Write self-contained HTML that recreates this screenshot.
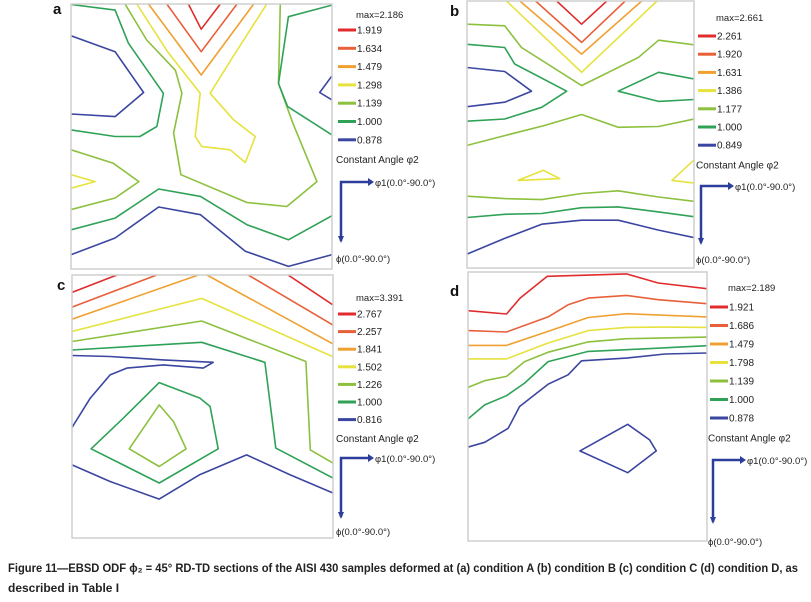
<!DOCTYPE html>
<html><head><meta charset="utf-8"><style>
body{margin:0;background:#fff;}
svg{display:block;font-family:"Liberation Sans",Arial,sans-serif;}
</style></head><body>
<svg id="fig" width="811" height="602" viewBox="0 0 811 602" xmlns="http://www.w3.org/2000/svg">
<text x="8" y="572" font-size="12" font-weight="bold" fill="#222" textLength="790" lengthAdjust="spacingAndGlyphs">Figure 11—EBSD ODF ϕ₂ = 45° RD-TD sections of the AISI 430 samples deformed at (a) condition A (b) condition B (c) condition C (d) condition D, as</text>
<text x="8" y="592" font-size="12" font-weight="bold" fill="#222">described in Table I</text>
</svg>
<script>
const colors = ['#e02c2c','#e8603a','#f0a032','#e6e23e','#8cc03e','#2fa257','#3a46a0'];
// Panel metadata
const panelLabels = ['a','b','c','d'];
const maxLabels = ['max=2.186','max=2.661','max=3.391','max=2.189'];
const levelsA = ['1.919','1.634','1.479','1.298','1.139','1.000','0.878'];
const levelsB = ['2.261','1.920','1.631','1.386','1.177','1.000','0.849'];
const levelsC = ['2.767','2.257','1.841','1.502','1.226','1.000','0.816'];
const levelsD = ['1.921','1.686','1.479','1.798','1.139','1.000','0.878'];
// Contours: [levelIndex, closed, points in % of phi1 / Phi range]
const contoursA = [
 [0,0,[[45,0],[49.9,9.5],[57.2,0]]],
 [1,0,[[36.7,0],[49.9,18],[63.6,0]]],
 [2,0,[[29.7,0],[49.9,26.8],[70,0]]],
 [3,0,[[25.2,0],[37,18],[49.5,33.7],[47.6,50],[50.1,53.8],[61,55],[66.8,59.8],[70.6,50],[62.3,43.7],[53.3,33.7],[62,20],[75,0]]],
 [3,0,[[0,64.4],[9.2,67],[0,69.5]]],
 [4,0,[[20.7,0],[29,13.6],[40,25],[42.5,33.7],[39.3,48.7],[42.1,64.4],[67.4,74.9],[82.7,76.4],[94.2,67],[85,45],[79.5,30],[80.2,0]]],
 [4,0,[[0,55],[16.2,60.1],[26,67],[16.9,73.2],[0,77.6]]],
 [5,0,[[0,0.2],[16.9,2.3],[22,14.8],[35.4,33.7],[32.9,46.2],[26.4,50],[16.9,50],[0,47.5]]],
 [5,0,[[100,0.4],[83.3,4.8],[79.5,30],[83,38.7],[100,49.4]]],
 [5,0,[[0,85.2],[16.9,80.8],[33.6,69.8],[49.6,72.6],[67.4,83.3],[83.3,89],[100,79.9]]],
 [6,0,[[0,12],[16.9,18],[27.8,33.4],[16.9,42.5],[0,41.5]]],
 [6,0,[[100,27.1],[95.3,33.4],[100,36.2]]],
 [6,0,[[0,94.6],[16.9,88.3],[33.6,76.6],[49.6,79.5],[66.8,93.3],[83.3,99],[100,94.6]]]
];
const contoursB = [
 [0,0,[[39.5,0],[50.5,8.7],[61.6,0]]],
 [1,0,[[30.2,0],[50.5,15.5],[69.7,0]]],
 [2,0,[[23.3,0],[50.5,19.9],[77,0]]],
 [3,0,[[17.4,0],[50.5,26.7],[83.7,0]]],
 [4,0,[[0,8.7],[16.6,9.3],[24,17.4],[50.5,31.7],[75.6,21.1],[84.4,14.7],[100,16.4]]],
 [5,0,[[0,16.2],[16.6,17.4],[21,23.6],[43.9,33.8],[32.9,39.8],[16.6,44.2],[0,45]]],
 [5,0,[[100,29.2],[84.4,26.7],[66.6,33.8],[84.4,37.6],[100,36.9]]],
 [4,0,[[0,54.1],[16.6,50.4],[34.3,46.6],[50.5,42.5],[66.6,47.3],[84.4,47],[100,44.2]]],
 [6,0,[[0,24.9],[16.6,26.4],[28.4,33.8],[16.6,37.9],[0,39.6]]],
 [3,1,[[22.5,67.2],[33.6,63.4],[40.9,66.5]]],
 [3,0,[[100,59.5],[90.3,67.2],[100,68.2]]],
 [4,0,[[0,73.1],[16.6,74],[32.9,74.4],[50.5,72.1],[66.6,71.1],[84.4,73.4],[100,75]]],
 [5,0,[[0,81.1],[16.6,79.9],[32.9,79.6],[50.5,77.4],[66.6,77.1],[84.4,79],[100,80.8]]],
 [6,0,[[0,94.8],[16.6,88.9],[32.9,83.6],[50.5,82.1],[66.6,82.1],[84.4,85.8],[100,88.6]]]
];
const contoursC = [
 [0,0,[[0,6.6],[17.2,0]]],
 [0,0,[[82.8,0],[100,11.4]]],
 [1,0,[[0,12.2],[32.5,0]]],
 [1,0,[[67.5,0],[100,19]]],
 [2,0,[[0,16.8],[48.4,0]]],
 [2,0,[[51.7,0],[100,26.2]]],
 [3,0,[[0,21.5],[49.7,8.9],[100,31.1]]],
 [4,0,[[0,25.3],[49.7,17.5],[89.6,32.9],[91.3,66.5],[100,71.5]]],
 [5,0,[[0,28.5],[49.7,25.6],[73.9,33.2],[78.1,65.8],[100,77.2]]],
 [6,0,[[0,30.6],[14.6,31],[35,32.3],[54.1,33.2],[50.3,35.4],[35,34.2],[21,35.4],[14.6,38],[7,46.8],[0,58]]],
 [6,0,[[0,72.2],[14.6,78.5],[33.4,85.2],[49,75.9],[66.9,68.4],[83.4,75.9],[100,82.9]]],
 [5,1,[[33.4,40.9],[49,46.8],[52.9,50],[56,66.1],[33.4,79.1],[7.3,66.1],[19.7,54.4]]],
 [4,1,[[33.4,49.4],[38.9,55.7],[43.7,66.1],[33.4,72.8],[21.9,66.1]]]
];
const contoursD = [
 [0,0,[[0,14.4],[16.1,15.6],[21.8,9.7],[33.2,1.6],[66.3,0.7],[79.6,4.1],[100,6.2]]],
 [1,0,[[0,21.8],[16.1,22.3],[33.5,16.7],[41.9,12.2],[50.3,9.7],[66.3,8.7],[79.6,10.3],[100,11.8]]],
 [2,0,[[0,27.3],[16.1,27.3],[33.5,22.1],[50.3,16.9],[66.3,15.5],[100,16.7]]],
 [3,0,[[0,32.3],[16.1,32.3],[33.5,26.4],[50.3,21.8],[66.3,20.6],[82.4,20.5],[100,20.6]]],
 [4,0,[[0,42.9],[7,40.4],[16.1,38.8],[23.7,33.3],[33.5,29.8],[50.3,26],[66.3,24.8],[100,24.2]]],
 [5,0,[[0,54.6],[7,49.4],[16.1,46],[23.7,41.3],[33.5,33.3],[50.3,29.5],[66.3,28.9],[100,27.4]]],
 [6,0,[[0,65.1],[7,63.3],[16.8,58.1],[21.6,50],[33.5,41.7],[41.9,38.2],[47.5,33],[66.3,32],[82.4,30.5],[100,30.1]]],
 [6,1,[[46.8,66.5],[66.8,56.6],[76,62.4],[78.8,66.5],[66.8,74.6]]]
];
// layout
const panels = [
 {box:[71,4,261,265], lab:[53,14], leg:[338,15,30,18.3], arr:[341,182,241], phiY:258},
 {box:[467,1,227,267], lab:[450,16], leg:[698,18,36,18.2], arr:[701,186,243], phiY:259},
 {box:[72,275,261,263], lab:[57,290], leg:[338,298,314,17.6], arr:[341,458,517], phiY:531},
 {box:[468,272,239,269], lab:[450,296], leg:[710,288,307,18.5], arr:[713,460,522], phiY:541}
];
const allLevels=[levelsA,levelsB,levelsC,levelsD];
const allContours=[contoursA,contoursB,contoursC,contoursD];
const NS='http://www.w3.org/2000/svg';
const svg=document.getElementById('fig');
function mk(tag,attrs,parent){const e=document.createElementNS(NS,tag);for(const k in attrs)e.setAttribute(k,attrs[k]);(parent||svg).appendChild(e);return e;}
panels.forEach((p,i)=>{
 const [x0,y0,w,h]=p.box;
 const X=v=>x0+v/100*w, Y=v=>y0+v/100*h;
 const g=mk('g',{});
 
 
 const clip=mk('clipPath',{id:'clip'+i},g);
 mk('rect',{x:x0,y:y0,width:w,height:h},clip);
 const cg=mk('g',{'clip-path':'url(#clip'+i+')'},g);
 allContours[i].forEach((c,j)=>{
  const pts=c[2].map(q=>X(q[0]).toFixed(1)+','+Y(q[1]).toFixed(1)).join(' ');
  const el=mk(c[1]?'polygon':'polyline',{points:pts,fill:'none',stroke:colors[c[0]],'stroke-width':1.6,'stroke-linejoin':'round'},cg);
  
  
 });
 const fr=mk('rect',{x:x0,y:y0,width:w,height:h,fill:'none',stroke:'#cfcfcf','stroke-width':1.5},g);
 
 
 const lb=mk('text',{x:p.lab[0],y:p.lab[1],'font-size':15,'font-weight':'bold',fill:'#111'},g);
 lb.textContent=panelLabels[i];
 
 
 const [lx,my,ly0,dy]=p.leg;
 const mt=mk('text',{x:lx+18,y:my+3,'font-size':9.5,fill:'#222'},g);
 mt.textContent=maxLabels[i];
 
 
 allLevels[i].forEach((lv,k)=>{
  const yy=ly0+k*dy;
  const sw=mk('rect',{x:lx,y:yy-1.5,width:18,height:3,fill:colors[k]},g);
  
  
  const t=mk('text',{x:lx+19,y:yy+3.5,'font-size':10,fill:'#222'},g);
  t.textContent=lv;
  
  
 });
 const ca=mk('text',{x:lx-2,y:ly0+7*dy+5,'font-size':10,fill:'#222'},g);
 ca.textContent='Constant Angle φ2';
 
 
 const [ax,ay,ay2]=p.arr;
 const ar=mk('path',{d:`M${ax+28},${ay} L${ax},${ay} L${ax},${ay2}`,fill:'none',stroke:'#2b3f9a','stroke-width':2.5},g);
 
 
 mk('polygon',{points:`${ax+27},${ay-4} ${ax+33},${ay} ${ax+27},${ay+4}`,fill:'#2b3f9a'},g);
 mk('polygon',{points:`${ax-3},${ay2-5} ${ax},${ay2+2} ${ax+3},${ay2-5}`,fill:'#2b3f9a'},g);
 const t1=mk('text',{x:ax+34,y:ay+4,'font-size':9.5,fill:'#222'},g);
 t1.textContent='φ1(0.0°-90.0°)';
 
 
 const t2=mk('text',{x:ax-5,y:p.phiY+4,'font-size':9.5,fill:'#222'},g);
 t2.textContent='ϕ(0.0°-90.0°)';
 
 
});
</script>
</body></html>
